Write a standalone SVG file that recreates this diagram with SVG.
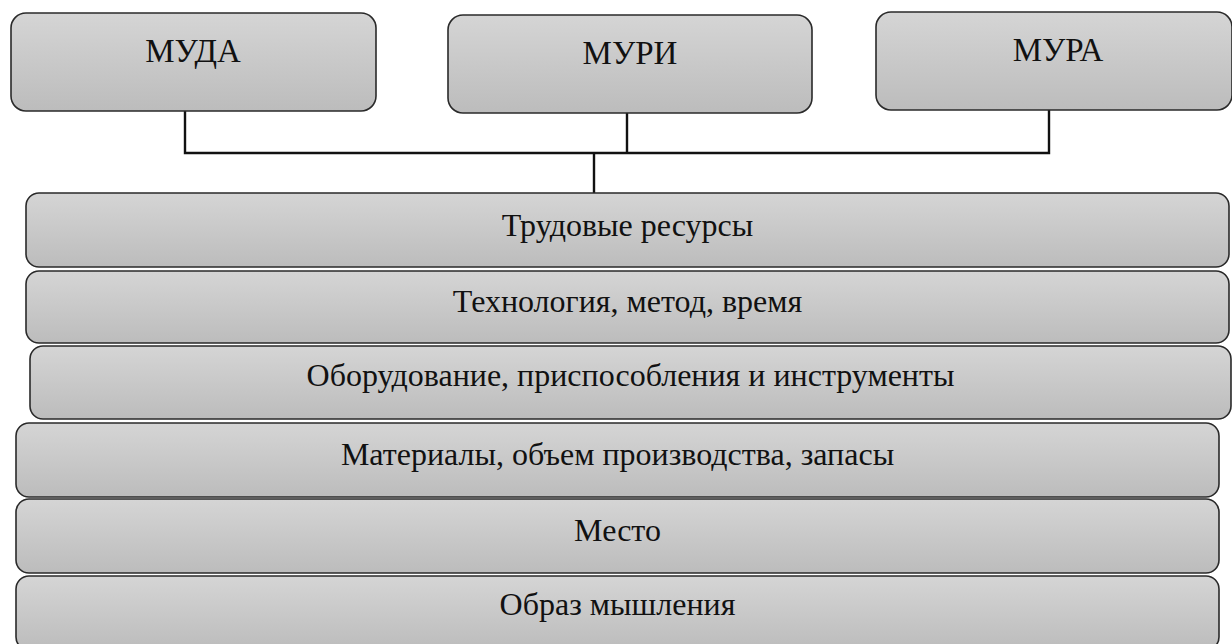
<svg xmlns="http://www.w3.org/2000/svg" width="1232" height="644" viewBox="0 0 1232 644">
<defs>
<linearGradient id="g" x1="0" y1="0" x2="0" y2="1">
<stop offset="0" stop-color="#d5d5d5"/>
<stop offset="1" stop-color="#bcbcbc"/>
</linearGradient>
<style>
.box{fill:url(#g);stroke:#2a2a2a;stroke-width:1.6}
.t{font-family:"Liberation Serif","Times New Roman",serif;fill:#111;text-anchor:middle}
.h{font-size:33px}
.r{font-size:32px}
.c{fill:none;stroke:#111;stroke-width:2.4}
</style>
</defs>
<rect width="1232" height="644" fill="#fff"/>
<g id="connectors">
<path class="c" d="M185 111V153H1049V110M627 113V153M594 153V193"/>
</g>
<g id="muda"><rect class="box" x="11" y="13" width="365" height="98" rx="15"/><text class="t h" x="193" y="62">МУДА</text></g>
<g id="muri"><rect class="box" x="448" y="15" width="364" height="98" rx="15"/><text class="t h" x="630" y="64">МУРИ</text></g>
<g id="mura"><rect class="box" x="876" y="12" width="356" height="98" rx="15"/><text class="t h" x="1058" y="61">МУРА</text></g>
<g id="row1"><rect class="box" x="26" y="193" width="1203" height="74" rx="13"/><text class="t r" x="627.5" y="236">Трудовые ресурсы</text></g>
<g id="row2"><rect class="box" x="26" y="271" width="1203" height="72" rx="13"/><text class="t r" x="627.5" y="312">Технология, метод, время</text></g>
<g id="row3"><rect class="box" x="30" y="346" width="1201" height="73" rx="13"/><text class="t r" x="630.5" y="386">Оборудование, приспособления и инструменты</text></g>
<g id="row4"><rect class="box" x="16" y="423" width="1203" height="74" rx="13"/><text class="t r" x="617.5" y="465">Материалы, объем производства, запасы</text></g>
<g id="row5"><rect class="box" x="16" y="499" width="1203" height="74" rx="13"/><text class="t r" x="617.5" y="541">Место</text></g>
<g id="row6"><rect class="box" x="16" y="576" width="1203" height="74" rx="13"/><text class="t r" x="617.5" y="615">Образ мышления</text></g>
</svg>
